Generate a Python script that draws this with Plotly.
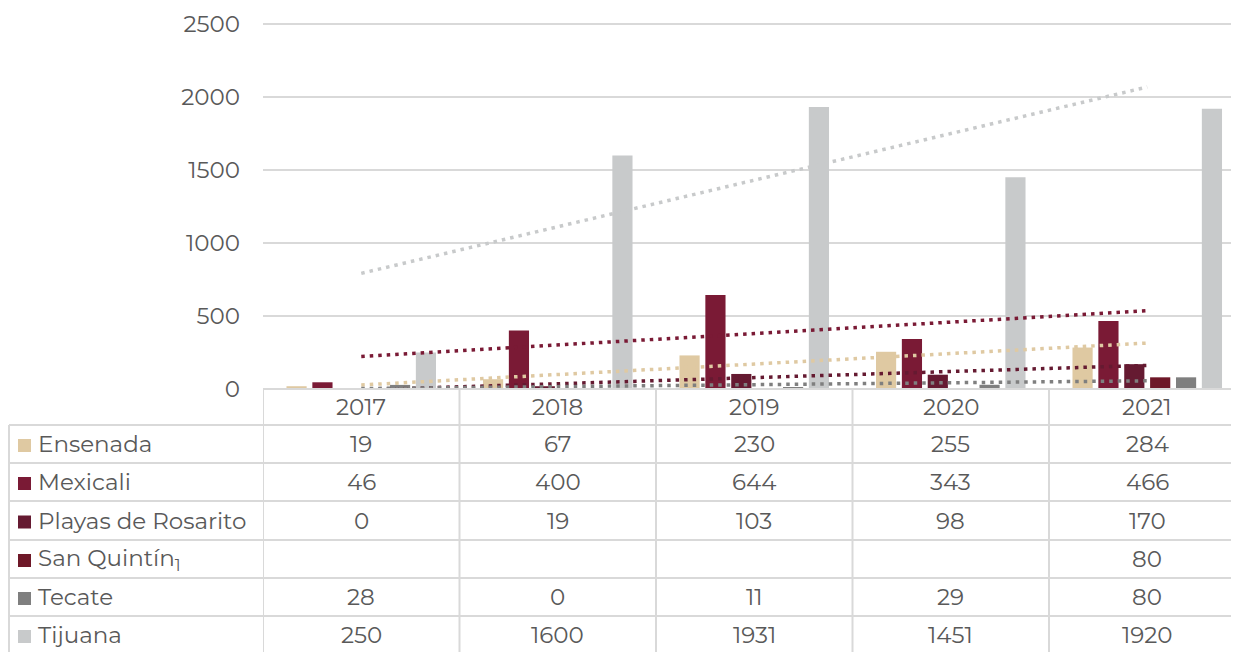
import numpy as np
import plotly.graph_objects as go

YEARS = ["2017", "2018", "2019", "2020", "2021"]
SERIES = ["Ensenada", "Mexicali", "Playas de Rosarito", "San Quintín", "Tecate", "Tijuana"]
ENSENADA = [19, 67, 230, 255, 284]
MEXICALI = [46, 400, 644, 343, 466]
PLAYAS = [0, 19, 103, 98, 170]
SAN_QUINTIN = [None, None, None, None, 80]
TECATE = [28, 0, 11, 29, 80]
TIJUANA = [250, 1600, 1931, 1451, 1920]

VALUES = [ENSENADA, MEXICALI, PLAYAS, SAN_QUINTIN, TECATE, TIJUANA]
COLORS = ["#dfc9a2", "#7a1a35", "#651a31", "#6e1828", "#7f7f7f", "#c8cacb"]
ROW_LABELS = ["Ensenada", "Mexicali", "Playas de Rosarito", "San Quintín<sub>1</sub>", "Tecate", "Tijuana"]

# the page body has an 8px margin, so the figure starts 8px in and 8px down
OFF = 8
W, H = 1239 - 2 * OFF, 652 - OFF
PLOT_L, PLOT_T, PLOT_B = 263 - OFF, 22 - OFF, 389 - OFF
Y_TOP = 2500 * (389 - 22) / (389 - 24)
GRID = "#d9d9d9"
TEXT = "#595959"
FONT = "Montserrat, Open Sans, sans-serif"
FS = 23


def py(p):
    # screen pixel row -> paper y
    return (PLOT_B - (p - OFF)) / (PLOT_B - PLOT_T)


def px(p):
    return ((p - OFF) - PLOT_L) / (W - PLOT_L)


fig = go.Figure()
for name, vals, col in zip(SERIES, VALUES, COLORS):
    fig.add_bar(x=YEARS, y=vals, name=name, marker=dict(color=col, line=dict(width=0)), showlegend=False)

# linear trendlines (Excel style) for series with more than one point
idx = np.arange(len(YEARS))
for name, vals, col in zip(SERIES, VALUES, COLORS):
    pts = [(i, v) for i, v in zip(idx, vals) if v is not None]
    if len(pts) < 2:
        continue
    xs, ys = zip(*pts)
    slope, icpt = np.polyfit(xs, ys, 1)
    fig.add_scatter(
        x=[YEARS[0], YEARS[-1]],
        y=[icpt, icpt + slope * idx[-1]],
        mode="lines",
        line=dict(color=col, width=3.5, dash="3.5px,5px"),
        showlegend=False,
        hoverinfo="skip",
    )

shapes = []
line = dict(color=GRID, width=2)
row_tops = [389, 425, 463, 501, 540, 578, 616]
for i, r in enumerate(row_tops):
    x0 = px(263) if i == 0 else px(9)
    shapes.append(dict(type="line", xref="paper", yref="paper", x0=x0, x1=1.02, y0=py(r), y1=py(r), line=line))
shapes.append(dict(type="line", xref="paper", yref="paper", x0=px(9), x1=px(9), y0=py(425), y1=py(665), line=line))
for k in range(len(YEARS)):
    xb = k - 0.5
    shapes.append(dict(type="line", xref="x", yref="paper", x0=xb, x1=xb, y0=py(389), y1=py(665), line=line))

annotations = []
txt_font = dict(family=FONT, size=FS, color=TEXT)
for j, yr in enumerate(YEARS):
    annotations.append(dict(x=j, y=py(407), xref="x", yref="paper", text=yr, showarrow=False,
                            xanchor="center", yanchor="middle", font=txt_font))
for i, (lab, vals, col) in enumerate(zip(ROW_LABELS, VALUES, COLORS)):
    top = row_tops[i + 1]
    bot = row_tops[i + 2] if i + 2 < len(row_tops) else 654
    cy = (top + bot) / 2
    shapes.append(dict(type="rect", xref="paper", yref="paper", x0=px(18), x1=px(31),
                       y0=py(cy - 5), y1=py(cy + 8), fillcolor=col, line=dict(width=0)))
    annotations.append(dict(x=px(36), y=py(cy), xref="paper", yref="paper", text=lab, showarrow=False,
                            xanchor="left", yanchor="middle", font=txt_font))
    for j, v in enumerate(vals):
        if v is None:
            continue
        annotations.append(dict(x=j, y=py(cy), xref="x", yref="paper", text=str(v), showarrow=False,
                                xanchor="center", yanchor="middle", font=txt_font))

span = (W - PLOT_L) / 196.5
fig.update_layout(
    width=W,
    height=H,
    margin=dict(l=PLOT_L, r=0, t=PLOT_T, b=H - PLOT_B, pad=0),
    paper_bgcolor="white",
    plot_bgcolor="white",
    barmode="group",
    bargap=0.21,
    bargroupgap=0.22,
    font=txt_font,
    shapes=shapes,
    annotations=annotations,
    showlegend=False,
)
fig.update_xaxes(type="category", range=[-0.5, -0.5 + span], showticklabels=False, showgrid=False,
                 zeroline=False, showline=False)
fig.update_yaxes(range=[0, Y_TOP], tickvals=[0, 500, 1000, 1500, 2000, 2500], showgrid=True,
                 gridcolor=GRID, gridwidth=2, zeroline=False, ticks="", ticklabelstandoff=22,
                 tickfont=txt_font)

fig.write_html("out.html")
